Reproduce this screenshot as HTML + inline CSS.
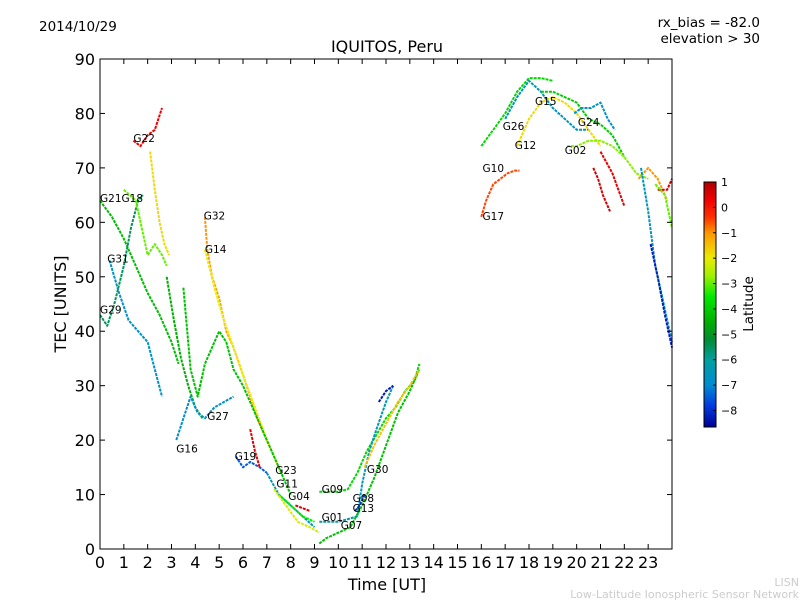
<!DOCTYPE html>
<html><head><meta charset="utf-8"><style>
body{margin:0;background:#fff;}
svg{display:block;font-family:"DejaVu Sans","Liberation Sans",sans-serif;}
</style></head><body>
<svg id="chart" width="800" height="600" viewBox="0 0 800 600">
<rect x="0" y="0" width="800" height="600" fill="#fff"/>
<text x="39" y="31" font-size="13.5">2014/10/29</text>
<text x="760" y="27" font-size="13.5" text-anchor="end">rx_bias = -82.0</text>
<text x="760" y="43" font-size="13.5" text-anchor="end">elevation &gt; 30</text>
<text x="387" y="52" font-size="16" text-anchor="middle">IQUITOS, Peru</text>
<text x="387" y="590" font-size="16" text-anchor="middle">Time [UT]</text>
<text x="66" y="304" font-size="16" text-anchor="middle" transform="rotate(-90 66 304)">TEC [UNITS]</text>
<text x="753" y="304" font-size="13.5" text-anchor="middle" transform="rotate(-90 753 304)">Latitude</text>
<text x="799" y="586" font-size="11" fill="#ccc" text-anchor="end">LISN</text>
<text x="799" y="598" font-size="11" fill="#ccc" text-anchor="end">Low-Latitude Ionospheric Sensor Network</text>
<g id="marks"></g>
<rect x="100" y="59" width="572" height="490" fill="none" stroke="#000" stroke-width="1"/>
<g id="axes"></g>
<g id="cbar"></g>
</svg>
<script>
const xTicks=[0,1,2,3,4,5,6,7,8,9,10,11,12,13,14,15,16,17,18,19,20,21,22,23];
const yTicks=[0,10,20,30,40,50,60,70,80,90];
const cbTicks=[1,0,-1,-2,-3,-4,-5,-6,-7,-8];
const trackTimes=[
[0,0.5,1,1.5,2,2.5,3,3.3],
[0,0.3,0.6,1,1.3,1.6,1.8],
[0.4,0.8,1.2,1.6,2,2.3,2.6],
[1.4,1.7,2,2.3,2.6],
[1,1.5,1.8,2,2.3,2.6,2.8],
[2.1,2.3,2.5,2.7,2.9],
[2.8,3.1,3.4,3.7,4,4.3],
[3.2,3.5,3.8,4.1,4.4,4.8,5.2,5.6],
[4.4,4.5,4.7,5,5.3,5.6,6,6.3,6.6,7],
[4.4,4.8,5.2,5.6,6,6.5,7,7.5],
[3.5,3.8,4.1,4.4,4.7,5,5.3,5.6,6,6.5,7,7.5,8],
[5.7,6,6.3,6.7,7],
[6.3,6.5,6.7],
[7,7.5,8,8.5,9],
[7.5,8,8.5,9],
[8.2,8.5,8.8],
[7.3,7.8,8.3,8.8,9.2],
[9.2,9.6,10,10.4,10.8,11.2,11.6,12,12.4,12.8,13.2,13.4],
[9.2,9.6,10,10.4,10.8,11,11.3,11.6,12,12.3],
[9.2,9.5,10,10.5,11,11.5,12,12.5,13,13.4],
[11.1,11.5,12,12.5,13,13.4],
[10.7,10.9,11.1],
[11.7,12,12.3],
[16,16.2,16.5,16.8,17.1,17.4,17.6],
[16,16.5,17,17.5,18,18.5,19],
[17,17.5,18,18.5,19,19.5,20,20.5],
[17.5,18,18.5,19,19.5,20,20.5,21],
[18.5,19,19.5,20,20.5,21,21.5,22],
[19.9,20.2,20.6,21,21.3,21.6],
[19.6,20,20.5,21,21.5,22,22.5,23],
[20.7,20.9,21.1,21.4],
[21,21.5,22],
[22.6,23,23.4,23.8],
[22.7,23,23.3,23.7,24],
[23.1,23.4,23.7,24],
[23.4,23.8,24],
[23.3,23.7,24]
];
const trackTec=[
[64,61,57,52,47,43,38,34],
[43,41,45,52,59,64,65],
[53,47,42,40,38,33,28],
[75,74,76,77,81],
[66,64,58,54,56,54,52],
[73,66,60,56,54],
[50,42,35,30,26,24],
[20,24,28,25,24,26,27,28],
[61,55,50,46,40,37,32,28,24,20],
[55,48,42,37,32,26,20,15],
[48,33,28,34,37,40,38,33,30,25,20,15,10],
[17,15,16,15,14],
[22,18,15],
[14,10,8,6,4],
[10,8,6,5],
[8,7.5,7],
[11,8,5,4,3],
[10.5,10.5,10.5,11,14,18,21,24,26,29,31,34],
[5,5,5,5.5,6,12,18,22,27,30],
[1,2,3,4,8,13,19,25,29,33],
[15,19,23,27,30,33],
[7,8,10],
[27,29,30],
[61,64,67,68,69,69.5,69.5],
[74,77,80,84,86.5,86.5,86],
[79,83,86,84,81,79,77,77],
[74,79,82,83,82,80,77,74],
[84,84,83,82,79,78,76,72],
[80,81,81,82,79,77],
[74,74,75,75,74,72,69,68],
[70,68,65,62],
[73,69,63],
[68,70,68,64],
[70,62,52,44,38],
[56,50,43,37],
[66,66,68],
[67,65,59]
];
const trackLat=[-4.3,-5.5,-6.7,0.3,-3,-1.8,-4.5,-6.8,-1,-2,-4.2,-7.5,0.4,-6.5,-3.5,0.5,-2.2,-3.8,-6.3,-4.2,-1.5,-8,-8.3,-0.5,-3.8,-6.5,-1.8,-4,-6.8,-2.8,0.6,0.4,-1,-6.5,-8.2,0.5,-3];
const satNames=["G21G18","G31","G29","G22","G32","G14","G27","G16","G19","G23","G11","G04","G09","G08","G13","G01","G07","G30","G15","G26","G24","G12","G02","G10","G17"];
const satT=[0,0.3,0,1.4,4.35,4.4,4.5,3.2,5.65,7.35,7.4,7.9,9.3,10.6,10.6,9.3,10.1,11.2,18.25,16.9,20.05,17.4,19.5,16.05,16.05];
const satTec=[64.5,53.4,44,75.5,61.3,55.1,24.4,18.5,17.1,14.5,12,9.7,11,9.4,7.5,5.9,4.4,14.7,82.3,77.7,78.4,74.2,73.3,70,61.2];

const NS="http://www.w3.org/2000/svg";
const X0=100,X1=672,Y0=549,Y1=59;
const xs=t=>X0+t*(X1-X0)/24;
const ys=v=>Y0-v*(Y0-Y1)/90;
const LMIN=-8.65,LMAX=1.0;
const CSTOPS=[[1.0,[175,0,0]],[0.3,[240,0,0]],[-0.4,[255,50,0]],[-1,[255,150,0]],[-2,[235,235,0]],[-2.7,[160,240,0]],[-3.5,[0,235,0]],[-4.5,[0,175,0]],[-5.2,[0,140,50]],[-6,[0,160,160]],[-7,[0,140,210]],[-7.8,[0,60,225]],[-8.65,[0,0,150]]];
function jet(lat){
  if(lat>=CSTOPS[0][0])return `rgb(${CSTOPS[0][1]})`;
  for(let i=1;i<CSTOPS.length;i++){
    const a=CSTOPS[i-1],b=CSTOPS[i];
    if(lat>=b[0]){const f=(a[0]-lat)/(a[0]-b[0]);
      const c=a[1].map((v,k)=>Math.round(v+(b[1][k]-v)*f));return `rgb(${c.join(',')})`;}
  }
  return `rgb(${CSTOPS[CSTOPS.length-1][1]})`;
}
function mk(tag,attrs,parent){const e=document.createElementNS(NS,tag);for(const k in attrs)e.setAttribute(k,attrs[k]);parent.appendChild(e);return e;}
const marks=document.getElementById('marks');
trackTimes.forEach((ts,i)=>{
  const pts=ts.map((t,j)=>xs(t).toFixed(1)+','+ys(trackTec[i][j]).toFixed(1)).join(' ');
  const pl=mk('polyline',{points:pts,fill:'none',stroke:jet(trackLat[i]),'stroke-width':2,'stroke-dasharray':'3 1','stroke-linejoin':'round'},marks);
  
  
});
satNames.forEach((n,i)=>{
  const tx=mk('text',{x:xs(satT[i]).toFixed(1),y:(ys(satTec[i])+4).toFixed(1),'font-size':10.5},marks);
  tx.textContent=n;
  
  
});
const axes=document.getElementById('axes');
xTicks.forEach(t=>{
  const x=xs(t);
  mk('line',{x1:x,x2:x,y1:Y0,y2:Y0-5,stroke:'#000'},axes);
  mk('line',{x1:x,x2:x,y1:Y1,y2:Y1+5,stroke:'#000'},axes);
  const tx=mk('text',{x:x,y:568,'font-size':16,'text-anchor':'middle'},axes);
  tx.textContent=t;
  
  
});
yTicks.forEach(v=>{
  const y=ys(v);
  mk('line',{x1:X0,x2:X0+5,y1:y,y2:y,stroke:'#000'},axes);
  mk('line',{x1:X1,x2:X1-5,y1:y,y2:y,stroke:'#000'},axes);
  const tx=mk('text',{x:95,y:y+6,'font-size':16,'text-anchor':'end'},axes);
  tx.textContent=v;
  
  
});
const cb=document.getElementById('cbar');
const CT=182,CB=427,CX=704,CW=12;
const cy=l=>CB-(l-LMIN)/(LMAX-LMIN)*(CB-CT);
for(let y=CT;y<CB;y++){mk('rect',{x:CX,y:y,width:CW,height:1.2,fill:jet(LMIN+(CB-y-0.5)/(CB-CT)*(LMAX-LMIN))},cb);}
const fr=mk('rect',{x:CX,y:CT,width:CW,height:CB-CT,fill:'none',stroke:'#000'},cb);


cbTicks.forEach(l=>{
  const y=cy(l);
  mk('line',{x1:CX+CW-3,x2:CX+CW,y1:y,y2:y,stroke:'#000'},cb);
  const tx=mk('text',{x:721,y:y+4,'font-size':11},cb);
  tx.textContent=(l<0?'\u2212'+(-l):l);
  
  
});
</script>
</body></html>
